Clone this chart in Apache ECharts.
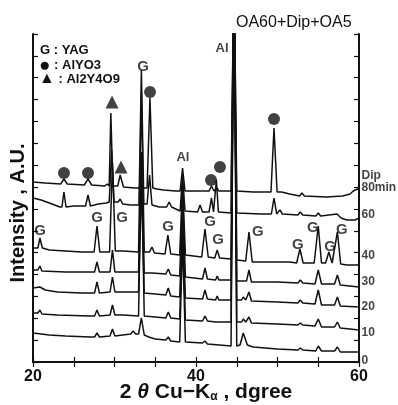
<!DOCTYPE html>
<html>
<head>
<meta charset="utf-8">
<script src="https://cdn.jsdelivr.net/npm/echarts@6/dist/echarts.min.js"></script>
<style>
  html, body { margin: 0; padding: 0; background: #fff; }
  #main { width: 398px; height: 405px; }
</style>
</head>
<body>
<div id="main"></div>
<script>
  // XRD patterns, [2theta, intensity (stacked, arbitrary units)]
  var trace0 = [[20, 29], [22, 27], [24, 26], [27, 25], [27.55, 25], [27.85, 29], [28.15, 25], [29.45, 26], [29.75, 33], [30.05, 26], [31, 27], [32.0, 28], [32.3, 31], [32.6, 28], [32.95, 28], [33.3, 44], [33.65, 27], [34.2, 25], [35, 23], [36.3, 22], [36.6, 25], [36.9, 21], [38.0, 20], [38.35, 122], [38.7, 20], [40.8, 19], [41.1, 21], [41.4, 18], [44.3, 16], [44.66, 400], [45.0, 16], [45.4, 17], [45.8, 29], [46.3, 17], [47, 15], [50, 13], [52.5, 12], [52.8, 14], [53.1, 12], [54.7, 11], [55.0, 16], [55.4, 11], [57.0, 11], [57.35, 15], [57.7, 10], [60, 10]]
  var trace10 = [[20, 49], [20.6, 49], [20.85, 52], [21.1, 48], [23, 47], [27, 46], [27.55, 46], [27.85, 52], [28.15, 46], [29.45, 47], [29.75, 57], [30.05, 47], [31, 47], [32.95, 46], [33.3, 200], [33.65, 46], [35, 45], [36.3, 44], [36.6, 50], [36.9, 44], [38.0, 43], [38.35, 140], [38.7, 42], [40.8, 41], [41.1, 46], [41.4, 41], [42.4, 40], [42.6, 42], [42.8, 40], [44.3, 40], [44.66, 400], [45.0, 40], [45.6, 40], [45.8, 43], [46.1, 40], [46.25, 40], [46.5, 45], [46.8, 39], [50, 38], [52.5, 37], [52.8, 39], [53.1, 37], [54.6, 36], [55.0, 43], [55.4, 35], [56.1, 35], [56.3, 36], [56.5, 35], [57.0, 35], [57.35, 40], [57.7, 34], [60, 32]]
  var trace20 = [[20, 74], [20.85, 75], [21.5, 72], [23, 70], [26, 69], [27.55, 69], [27.85, 80], [28.15, 69], [29.45, 70], [29.75, 85], [30.05, 70], [32.95, 70], [33.3, 180], [33.65, 69], [35, 68], [36.3, 67], [36.6, 74], [36.9, 66], [38.0, 65], [38.35, 150], [38.7, 64], [40.8, 63], [41.1, 72], [41.4, 63], [42.4, 62], [42.6, 66], [42.8, 62], [44.3, 62], [44.66, 400], [45.0, 62], [45.6, 62], [45.8, 65], [46.1, 62], [46.25, 62], [46.5, 70], [46.8, 61], [50, 60], [52.5, 59], [52.8, 62], [53.1, 59], [54.6, 58], [55.0, 72], [55.4, 57], [56.1, 57], [56.3, 59], [56.5, 57], [57.0, 57], [57.35, 65], [57.7, 56], [60, 55]]
  var trace30 = [[20, 92], [20.6, 92], [20.85, 96], [21.1, 91], [24, 90], [27.55, 90], [27.85, 100], [28.15, 90], [29.45, 90], [29.75, 112], [30.05, 90], [32.95, 90], [33.3, 210], [33.65, 89], [34.6, 89], [36.3, 88], [36.6, 93], [36.9, 87], [38.0, 86], [38.35, 170], [38.7, 85], [40.8, 83], [41.1, 94], [41.4, 83], [42.4, 82], [42.6, 86], [42.8, 82], [44.3, 82], [44.66, 400], [45.0, 81], [46.2, 81], [46.5, 92], [46.8, 80], [50, 80], [52.5, 79], [52.8, 82], [53.1, 79], [54.6, 78], [55.0, 92], [55.4, 78], [56.1, 78], [56.3, 80], [56.5, 78], [57.0, 78], [57.35, 87], [57.7, 77], [60, 75]]
  var trace40 = [[20, 114], [20.6, 114], [20.85, 124], [21.15, 114], [22, 112], [24, 111], [26, 110], [27.5, 110], [27.85, 136], [28.2, 110], [29.4, 110], [29.75, 200], [30.1, 111], [31, 111], [32.95, 110], [33.3, 270], [33.65, 110], [34.3, 110], [34.6, 115], [34.9, 109], [36.2, 108], [36.55, 127], [36.9, 108], [38.0, 107], [38.35, 180], [38.7, 107], [40.7, 105], [41.1, 133], [41.5, 105], [42.3, 104], [42.6, 112], [42.9, 104], [44.3, 103], [44.66, 400], [45.0, 102], [46.1, 101], [46.5, 130], [46.9, 100], [49, 100], [51.5, 100], [52.35, 99], [52.75, 113], [53.15, 99], [54.5, 99], [55.0, 136], [55.4, 99], [55.9, 99], [56.3, 110], [56.7, 99], [56.9, 99], [57.35, 130], [57.75, 98], [58.5, 97], [60, 97]]
  var trace60 = [[20, 164], [21, 162], [22, 159], [23.3, 155], [23.55, 155], [23.8, 170], [24.05, 155], [25, 156], [26.45, 156], [26.75, 167], [27.05, 156], [28, 158], [29, 159], [29.35, 160], [29.65, 212], [29.95, 160], [30.45, 160], [30.7, 163], [31.0, 158], [32, 157], [33.0, 157], [33.3, 292], [33.6, 158], [34.0, 158], [34.3, 187], [34.6, 157], [35.5, 155], [36.4, 155], [36.7, 160], [37.0, 155], [38.05, 151], [38.35, 187], [38.65, 151], [40.2, 150], [40.5, 157], [40.8, 150], [41.6, 150], [41.9, 164], [42.15, 150], [42.3, 150], [42.5, 182], [42.75, 150], [44.3, 149], [44.66, 400], [45.0, 149], [48, 148], [49.25, 148], [49.57, 164], [49.9, 148], [50.05, 148], [50.3, 152], [50.6, 148], [52.5, 147], [52.8, 150], [53.1, 147], [54.7, 146], [55.0, 149], [55.3, 146], [56.3, 147], [57.3, 148], [57.8, 144], [58.5, 142], [59.5, 142], [60, 144]]
  var trace80 = [[20, 180], [21.5, 179], [23.4, 178], [23.8, 183], [24.2, 178], [26.3, 177], [26.75, 183], [27.2, 177], [28.8, 176], [29.1, 178], [29.35, 176], [29.55, 249], [29.8, 176], [30.4, 176], [30.7, 187], [31.1, 175], [32.5, 174], [33.0, 174], [33.25, 180], [33.5, 174], [34.0, 174], [34.35, 264], [34.7, 174], [35.2, 173], [36, 172], [37.5, 171], [38.05, 171], [38.35, 194], [38.65, 171], [40, 171], [41.6, 171], [41.9, 176], [42.2, 171], [42.4, 171], [42.6, 174], [42.8, 171], [44.3, 171], [44.66, 400], [45.0, 171], [47, 170], [49.2, 170], [49.57, 234], [49.95, 170], [50.5, 170], [51.5, 168], [52.7, 166], [53.0, 169], [53.3, 166], [56, 165], [58, 166], [58.9, 168], [59.3, 171], [59.8, 173], [60, 172]]

  var traces = [trace0, trace10, trace20, trace30, trace40, trace60, trace80]
  var traceNames = ['0', '10', '20', '30', '40', '60', 'Dip\n80min']
  var traceLabelY = [1, 29, 55, 80, 106, 147, 180]

  // peak markers
  var circlePts = [[23.8, 189], [26.75, 189], [34.36, 270], [41.84, 182], [42.94, 195], [49.57, 243]]
  var trianglePts = [[29.7, 260], [30.8, 195]]
  var gLabels = [[33.5, 295], [20.86, 131], [27.85, 144], [30.92, 144], [36.56, 135], [41.72, 140], [42.7, 122], [47.6, 130], [52.5, 117], [54.35, 134], [56.45, 115], [57.9, 132]]
  var alLabels = [[38.4, 205], [43.2, 314]]
  var xTickLabels = [20, 40, 60]

  var font = 'Liberation Sans, Arial, Helvetica, sans-serif'
  var ink = '#111'

  var chart = echarts.init(document.getElementById('main'))

  var series = []
  traces.forEach(function (d, i) {
    series.push({
      name: traceNames[i],
      type: 'line',
      data: d,
      showSymbol: false,
      clip: true,
      lineStyle: { color: ink, width: 1.5 },
      z: 2
    })
  })
  series.push({
    type: 'scatter',
    data: circlePts,
    symbol: 'circle',
    symbolSize: 12,
    itemStyle: { color: ink },
    z: 4
  })
  series.push({
    type: 'scatter',
    data: trianglePts,
    symbol: 'triangle',
    symbolSize: 13,
    itemStyle: { color: ink },
    z: 4
  })
  series.push({
    type: 'scatter',
    data: gLabels,
    symbolSize: 1,
    itemStyle: { color: 'rgba(0,0,0,0)' },
    label: { show: true, position: 'inside', formatter: 'G', color: ink, fontSize: 15, fontWeight: 'bold', fontFamily: font },
    z: 5
  })
  series.push({
    type: 'scatter',
    data: alLabels,
    symbolSize: 1,
    itemStyle: { color: 'rgba(0,0,0,0)' },
    label: { show: true, position: 'inside', formatter: 'Al', color: ink, fontSize: 13, fontWeight: 'bold', fontFamily: font },
    z: 5
  })
  // labels at the right end of each pattern
  series.push({
    type: 'scatter',
    data: traceNames.map(function (n, i) { return [60, traceLabelY[i], n] }),
    symbolSize: 1,
    clip: false,
    itemStyle: { color: 'rgba(0,0,0,0)' },
    label: {
      show: true,
      position: 'right',
      distance: 2,
      formatter: function (p) { return p.value[2] },
      color: ink,
      fontSize: 12,
      fontWeight: 'bold',
      lineHeight: 12,
      fontFamily: font
    },
    z: 5
  })

  var frameAxis = {
    axisLine: { show: true, lineStyle: { color: ink, width: 2 } },
    axisTick: { show: true, inside: true, length: 5, lineStyle: { color: ink, width: 1.2 } },
    splitLine: { show: false }
  }

  var option = {
    animation: false,
    backgroundColor: '#fff',
    title: {
      text: 'OA60+Dip+OA5',
      left: 231,
      top: 10,
      textStyle: { color: ink, fontSize: 16, fontWeight: 'normal', fontFamily: font }
    },
    graphic: [
      {
        type: 'text', left: 40, top: 44,
        style: { text: 'G : YAG', fill: ink, font: 'bold 13px ' + font }
      },
      {
        type: 'text', left: 39, top: 56,
        style: {
          text: '{s|●} : AlYO3',
          fill: ink,
          font: 'bold 13px ' + font,
          rich: { s: { fontSize: 19, fill: ink } }
        }
      },
      {
        type: 'text', left: 39, top: 71,
        style: {
          text: '{s|▲} : Al2Y4O9',
          fill: ink,
          font: 'bold 13px ' + font,
          rich: { s: { fontSize: 16, fill: ink } }
        }
      }
    ],
    grid: { left: 33, right: 39, top: 34, bottom: 43, outerBoundsMode: 'none' },
    xAxis: [
      Object.assign({}, frameAxis, {
        type: 'value',
        min: 20,
        max: 60,
        interval: 5,
        axisLabel: {
          color: ink,
          fontSize: 16,
          fontWeight: 'bold',
          fontFamily: font,
          margin: 7,
          formatter: function (v) { return xTickLabels.indexOf(v) >= 0 ? String(v) : '' }
        },
        name: '2 {i|θ} Cu−K{sub|α} , dgree',
        nameLocation: 'middle',
        nameGap: 20,
        nameMoveOverlap: false,
        nameTextStyle: {
          color: ink,
          fontSize: 21,
          fontWeight: 'bold',
          fontFamily: font,
          padding: [0, 0, 0, 20],
          rich: {
            i: { fontSize: 21, fontStyle: 'italic', fontWeight: 'bold', fontFamily: font, color: ink },
            sub: { fontSize: 12, fontWeight: 'bold', fontFamily: font, color: ink, verticalAlign: 'bottom', padding: [8, 0, 0, 0] }
          }
        }
      }),
      Object.assign({}, frameAxis, {
        type: 'value', position: 'top', min: 20, max: 60, interval: 5,
        axisLabel: { show: false }
      })
    ],
    yAxis: [
      Object.assign({}, frameAxis, {
        type: 'value',
        min: 0,
        max: 328,
        interval: 328 / 15,
        axisLabel: { show: false },
        name: 'Intensity , A.U.',
        nameLocation: 'middle',
        nameGap: 5,
        nameMoveOverlap: false,
        nameTextStyle: { color: ink, fontSize: 20, fontWeight: 'bold', fontFamily: font, padding: [0, 30, 0, 0] }
      }),
      Object.assign({}, frameAxis, {
        type: 'value', position: 'right', min: 0, max: 328, interval: 328 / 15,
        axisLabel: { show: false }
      })
    ],
    series: series
  }
  chart.setOption(option)
</script>
</body>
</html>
